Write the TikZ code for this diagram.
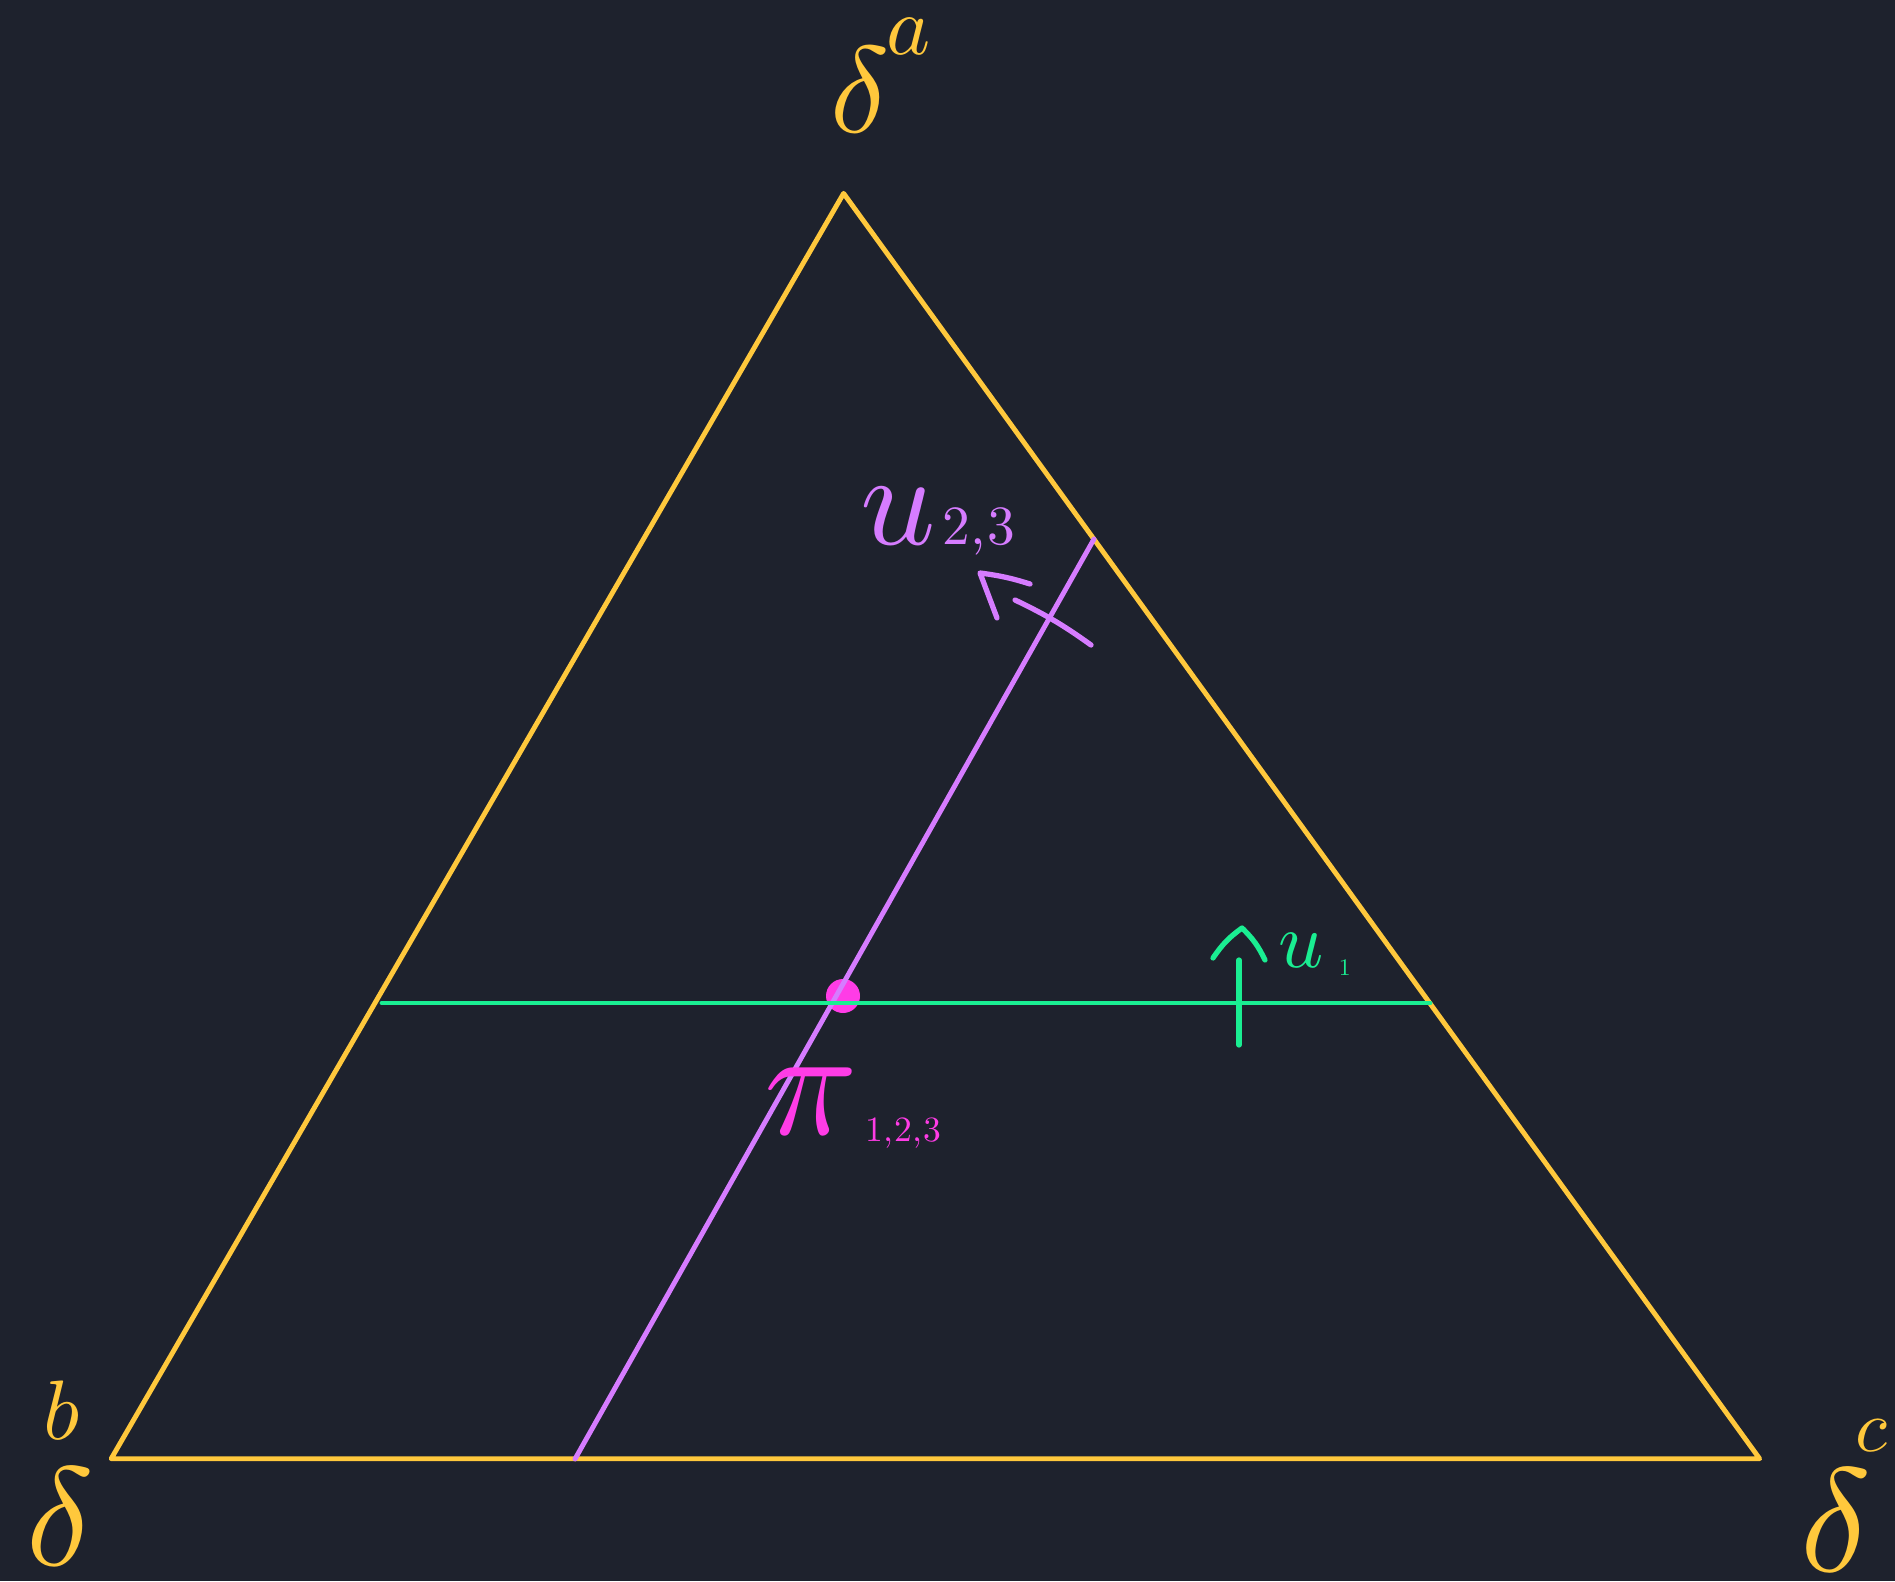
\documentclass[tikz,border=0pt]{standalone}
\usepackage{graphicx}
\definecolor{bg}{HTML}{1E222D}
\definecolor{yel}{HTML}{FFC83C}
\definecolor{grn}{HTML}{1AEE92}
\definecolor{pur}{HTML}{D67CFF}
\definecolor{pnk}{HTML}{FF3CE6}
\begin{document}
\begin{tikzpicture}[x=0.02cm,y=-0.02cm,line cap=round,line join=round,
  edge/.style={line width=2.8pt},
  mark stroke/.style={line width=3pt},
  lbl/.style={inner sep=0pt,anchor=base west}]
\useasboundingbox (0,0) rectangle (1895,1581);
\fill[bg] (0,0) rectangle (1895,1581);
% vertices
\coordinate (A) at (843.6,193.4);
\coordinate (B) at (111.2,1458.7);
\coordinate (C) at (1759.6,1458.7);
\coordinate (G1) at (382,1003);
\coordinate (G2) at (1430,1003);
\coordinate (P1) at (575,1459);
\coordinate (P2) at (1094,539);
% triangle
\draw[yel,edge] (A) -- (B) -- (C) -- cycle;
% intersection point
\node[circle,fill=pnk,minimum size=0.68cm,inner sep=0pt] (X) at (843,996) {};
% lines
\draw[pur,edge] (P1) -- (P2);
\draw[grn,edge] (G1) -- (G2);
% green normal tick and caret
\coordinate (gt1) at (1239,960);
\coordinate (gt2) at (1239,1045);
\draw[grn,mark stroke] (gt1) -- (gt2);
\coordinate (gc1) at (1213,958);
\coordinate (gc2) at (1242,928);
\coordinate (gc3) at (1265,960);
\draw[grn,mark stroke] (gc1) to[bend left=10] (gc2) to[bend left=10] (gc3);
% purple normal tick and caret
\coordinate (pt1) at (1015,600);
\coordinate (pt2) at (1091,645);
\draw[pur,mark stroke] (pt1) to[bend left=5] (pt2);
\coordinate (pc1) at (997,618);
\coordinate (pc2) at (980,573);
\coordinate (pc3) at (1030,584);
\draw[pur,mark stroke] (pc1) -- (pc2) to[bend left=5] (pc3);
% labels
\node[lbl,yel,scale=7] (la) at (828,133) {$\delta\kern-0.3pt\raisebox{6.4pt}{\scalebox{0.68}{$a$}}$};
\node[lbl,yel,scale=8] (lb) at (24,1565) {$\delta\kern-3.6pt\raisebox{8.9pt}{\scalebox{0.6}{$b$}}$};
\node[lbl,yel,scale=8.4] (lc) at (1798,1571) {$\delta\kern-1.1pt\raisebox{8.1pt}{\scalebox{0.5}{$c$}}$};
\node[lbl,pur,scale=7.5] (lu23) at (858,544) {$u\kern0.5pt\raisebox{0pt}{\scalebox{0.42}{2,\kern0.4pt3}}$};
\node[lbl,pnk,scale=8.8] (lpi) at (761,1134) {$\pi\kern0.5pt\raisebox{-0.5pt}{\scalebox{0.23}{1,\kern0.4pt2,\kern0.4pt3}}$};
\node[lbl,grn,scale=4.5] (lu1) at (1277,967) {$u\kern1.9pt\raisebox{-1.1pt}{\scalebox{0.3}{1}}$};
\end{tikzpicture}
\end{document}
